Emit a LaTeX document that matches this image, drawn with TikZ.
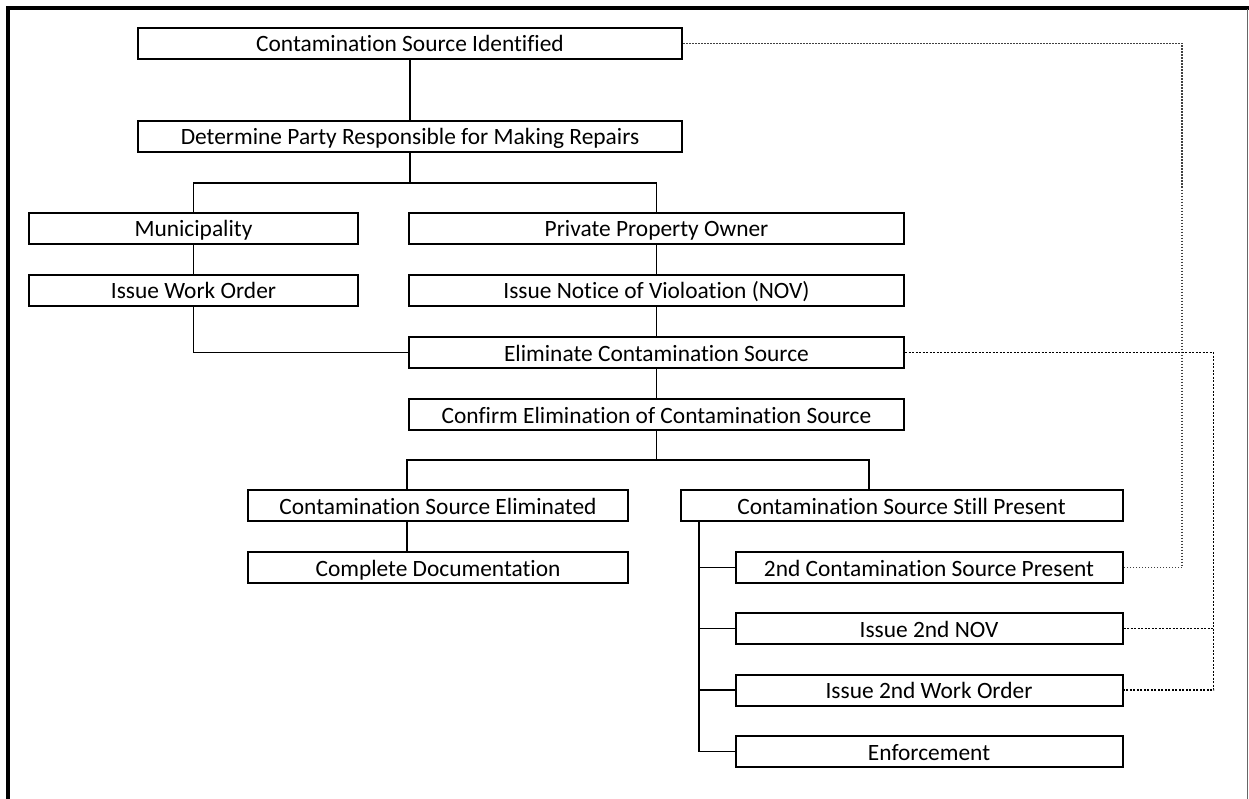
\documentclass[tikz,border=0pt]{standalone}
\usepackage{fontspec}
\setmainfont{Carlito}[Ligatures=NoCommon]
\tikzset{
  box/.style={draw, fill=white, line width=2pt, minimum height=31pt, inner sep=0pt,
    text height=18pt, text depth=1pt,
    font=\fontsize{23.4}{27}\selectfont},
  conn/.style={line width=1.2pt},
  dots1/.style={line width=1.2pt, dash pattern=on 1.5pt off 1.5pt, black!75},
  dots2/.style={line width=1.5pt, dash pattern=on 2pt off 1.5pt, black}
}
\begin{document}
\begin{tikzpicture}[x=1pt,y=-1pt]
\useasboundingbox (0,0) rectangle (1249,799);
% frame
\draw[line width=4pt] (8,799) -- (8,8.5) -- (1249,8.5);
\draw[line width=1.5pt, black!60] (1247.5,9) -- (1247.5,799);

\node[box, minimum width=544pt] (src) at (410,43.5) {Contamination Source Identified};
\node[box, minimum width=544pt] (party) at (410,136.5) {Determine Party Responsible for Making Repairs};
\node[box, minimum width=329pt] (muni) at (193.5,228.5) {Municipality};
\node[box, minimum width=495pt] (priv) at (656.5,228.5) {Private Property Owner};
\node[box, minimum width=329pt] (wo) at (193.5,290.5) {Issue Work Order};
\node[box, minimum width=495pt] (nov) at (656.5,290.5) {Issue Notice of Violoation (NOV)};
\node[box, minimum width=495pt] (elim) at (656.5,352.5) {Eliminate Contamination Source};
\node[box, minimum width=495pt] (conf) at (656.5,414.5) {Confirm Elimination of Contamination Source};
\node[box, minimum width=380pt] (elimd) at (438,505.5) {Contamination Source Eliminated};
\node[box, minimum width=442pt] (still) at (901.5,505.5) {Contamination Source Still Present};
\node[box, minimum width=380pt] (doc) at (438,567.5) {Complete Documentation};
\node[box, minimum width=387pt] (src2) at (929,567.5) {2nd Contamination Source Present};
\node[box, minimum width=387pt] (nov2) at (929,628.5) {Issue 2nd NOV};
\node[box, minimum width=387pt] (wo2) at (929,690) {Issue 2nd Work Order};
\node[box, minimum width=387pt] (enf) at (929,751.5) {Enforcement};

% helper coordinates for connector columns
\coordinate (xl) at (407,0);
\coordinate (xr) at (869,0);
\coordinate (sp) at (699,0);
% connectors
\draw[conn] (src.south) -- (party.north);
\draw[conn] (party.south) -- ++(0,30) -| (muni.north);
\draw[conn] (party.south) -- ++(0,30) -| (priv.north);
\draw[conn] (muni) -- (wo);
\draw[conn] (priv) -- (nov);
\draw[conn] (wo.south) |- (elim.west);
\draw[conn] (nov) -- (elim);
\draw[conn] (elim) -- (conf);
\draw[conn] (conf.south) -- ++(0,29) -| (xl |- elimd.north);
\draw[conn] (conf.south) -- ++(0,29) -| (xr |- still.north);
\draw[conn] (xl |- elimd.south) -- (xl |- doc.north);
\draw[conn] (still.south -| sp) |- (src2.west);
\draw[conn] (still.south -| sp) |- (nov2.west);
\draw[conn] (still.south -| sp) |- (wo2.west);
\draw[conn] (still.south -| sp) |- (enf.west);

% dotted feedback lines
\coordinate (d1) at (1182,0);
\coordinate (d2) at (1213.5,0);
\draw[dots1] (src.east) -| (d1 |- src2.east) -- (src2.east);
\draw[dots2] (elim.east) -| (d2 |- wo2.east) -- (wo2.east);
\draw[dots2] (nov2.east) -- (d2 |- nov2.east);
\end{tikzpicture}
\end{document}
